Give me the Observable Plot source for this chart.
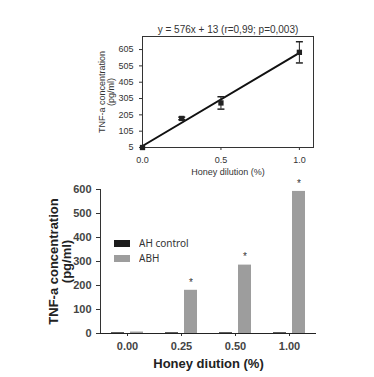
<!DOCTYPE html>
<html><head><meta charset="utf-8">
<script src="https://cdn.jsdelivr.net/npm/d3@7"></script>
<script src="https://cdn.jsdelivr.net/npm/@observablehq/plot@0.6"></script>
<style>
body{margin:0;background:#fff;font-family:"Liberation Sans",Arial,sans-serif;}
#root{position:relative;width:374px;height:377px;overflow:hidden;background:#fff;}
#top{position:absolute;left:0;top:0;}
#bottom{position:absolute;left:0;top:175px;}
#legend{position:absolute;left:114px;top:236px;font:12px "Liberation Sans",Arial,sans-serif;color:#333;}
#legend svg{margin-right:9px !important;}
#bottom g[aria-label="y-axis label"], #bottom g[aria-label="fx-axis label"]{font-weight:bold;font-size:13px;fill:#222;}
#bottom g[aria-label="y-axis tick label"], #bottom g[aria-label="fx-axis tick label"]{font-weight:bold;fill:#444;}
</style></head><body><div id="root"><div id="top"></div><div id="bottom"></div><div id="legend"></div></div>
<script>
// ---- Top panel: regression of TNF-a on honey dilution ----
const dilution = [0, 0.25, 0.5, 1.0];
const tnfMean = [5, 183, 278, 588];
const tnfErr = [0, 8, 38, 65];
const fitTitle = "y = 576x + 13 (r=0,99; p=0,003)";
const topYTicks = [5, 105, 205, 305, 405, 505, 605];
const topXTicks = [0, 0.5, 1.0];

// ---- Bottom panel: bar chart ----
const categories = ["0.00", "0.25", "0.50", "1.00"];
const series = ["AH control", "ABH"];
const ahControl = [3, 3, 3, 3];
const abh = [6, 180, 285, 592];
const significant = [false, true, true, true];
const barYTicks = [0, 100, 200, 300, 400, 500, 600];
const seriesColors = ["#1c1c1c", "#9d9d9d"];

const pts = dilution.map((x, i) => ({x, y: tnfMean[i], lo: tnfMean[i] - tnfErr[i], hi: tnfMean[i] + tnfErr[i]}));
const errPts = pts.filter(d => d.hi > d.lo);
const capSymbol = {draw(ctx, size) { const r = Math.sqrt(size / Math.PI); ctx.moveTo(-r, 0); ctx.lineTo(r, 0); }};

const topPlot = Plot.plot({
  width: 374, height: 180,
  marginLeft: 142, marginRight: 61, marginTop: 36, marginBottom: 33,
  style: {fontFamily: "Liberation Sans, Arial, sans-serif", fontSize: "9px", color: "#333", background: "transparent"},
  x: {domain: [0, 1.09], ticks: topXTicks, tickFormat: d3.format(".1f"), tickSize: 3, label: "Honey dilution (%)", labelArrow: "none", labelAnchor: "center", labelOffset: 27},
  y: {domain: [5, 685], ticks: topYTicks, tickSize: 3, label: "TNF-a concentration\n(pg/ml)", labelArrow: "none", labelAnchor: "center", labelOffset: 44},
  marks: [
    Plot.frame({stroke: "#333"}),
    Plot.linearRegressionY(pts, {x: "x", y: "y", ci: 0, stroke: "#111", strokeWidth: 2}),
    Plot.ruleX(errPts, {x: "x", y1: "lo", y2: "hi", stroke: "#222"}),
    Plot.dot(errPts, {x: "x", y: "hi", symbol: capSymbol, r: 3.5, stroke: "#222", fill: "none"}),
    Plot.dot(errPts, {x: "x", y: "lo", symbol: capSymbol, r: 3.5, stroke: "#222", fill: "none"}),
    Plot.dot(pts, {x: "x", y: "y", symbol: "square", r: 3, fill: "#222", stroke: "none"}),
    Plot.text([fitTitle], {frameAnchor: "top", dy: -11, fontSize: 10, fill: "#333"})
  ]
});
document.getElementById("top").append(topPlot);

const barData = categories.flatMap((c, i) => [
  {cat: c, series: series[0], v: ahControl[i]},
  {cat: c, series: series[1], v: abh[i]}
]);
const starData = categories.map((c, i) => ({cat: c, series: series[1], v: abh[i], sig: significant[i]})).filter(d => d.sig);

const barPlot = Plot.plot({
  width: 374, height: 202,
  marginLeft: 100, marginRight: 58, marginTop: 14, marginBottom: 44,
  style: {fontFamily: "Liberation Sans, Arial, sans-serif", fontSize: "11px", color: "#333", background: "transparent"},
  fx: {domain: categories, padding: 0, axis: "bottom", tickSize: 3, label: "Honey diution (%)", labelArrow: "none", labelAnchor: "center", labelOffset: 34},
  x: {domain: series, axis: null, paddingInner: 0.3, paddingOuter: 0.51},
  y: {domain: [0, 600], ticks: barYTicks, tickSize: 4, line: true, label: "TNF-a concentration\n(pg/ml)", labelArrow: "none", labelAnchor: "center", labelOffset: 52},
  color: {domain: series, range: seriesColors},
  marks: [
    Plot.barY(barData, {fx: "cat", x: "series", y: "v", fill: "series"}),
    Plot.ruleY([0], {stroke: "#222"}),
    Plot.text(starData, {fx: "cat", x: "series", y: "v", text: () => "*", dy: -8, fontSize: 10, fill: "#333"})
  ]
});
document.getElementById("bottom").append(barPlot);

const leg = Plot.legend({color: {domain: series, range: seriesColors}, legend: "swatches", swatchWidth: 16, swatchHeight: 7, columns: 1});
document.getElementById("legend").append(leg);
</script>
</body></html>
